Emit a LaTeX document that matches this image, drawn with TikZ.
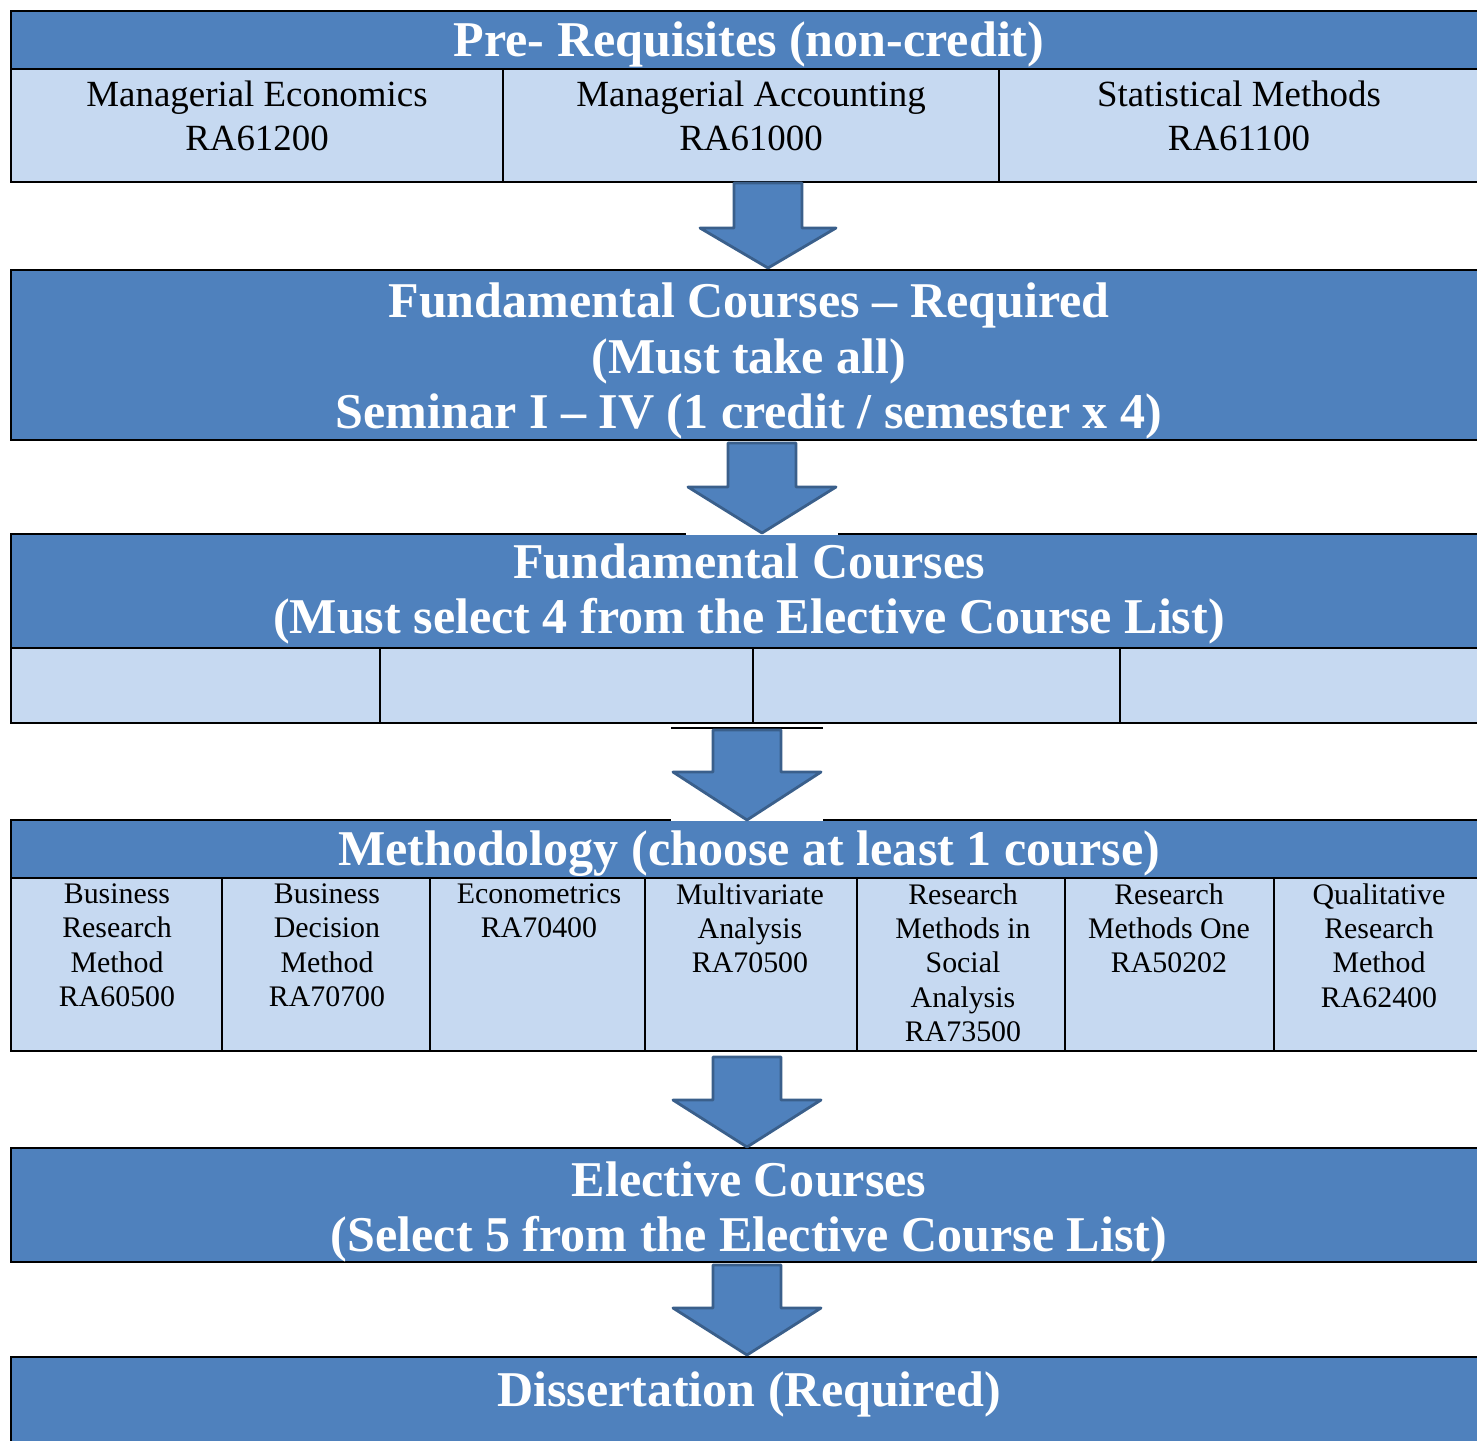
\documentclass[tikz,border=0pt]{standalone}
\usepackage{fontspec}
\setmainfont{Liberation Serif}
\definecolor{hdrblue}{HTML}{4F81BD}
\definecolor{cellblue}{HTML}{C6D9F1}
\definecolor{arrowline}{HTML}{3A5F8B}
\tikzset{
	hdr/.style={fill=hdrblue,draw=black,line width=1.1pt},
	row/.style={fill=cellblue,draw=black,line width=1.1pt},
	hdrtext/.style={text=white,align=center,inner sep=0pt,font=\bfseries\fontsize{28.5}{31.8}\selectfont},
	rowtext/.style={align=center,inner sep=0pt,font=\fontsize{21}{25}\selectfont},
	celltext/.style={align=center,inner sep=0pt,anchor=north,font=\fontsize{17}{19.6}\selectfont},
	blockarrow/.style={fill=hdrblue,draw=arrowline,line width=1.6pt,line join=round}
}
\begin{document}
\begin{tikzpicture}[x=0.02cm,y=-0.02cm]
	\useasboundingbox (0,0) rectangle (1477,1440);
	\clip (0,0) rectangle (1477,1440);
	% pre-requisites
	\draw[hdr] (11,11) rectangle (1484,69);
	\draw[row] (11,69) rectangle (1484,182);
	\draw[line width=1.1pt] (503,69) -- (503,182) (999,69) -- (999,182);
	\node[hdrtext] (prereq) at (749,44) {Pre- Requisites (non-credit)};
	\node[rowtext] (mecon) at (257,116) {Managerial Economics\\RA61200};
	\node[rowtext] (macct) at (751,116) {Managerial Accounting\\RA61000};
	\node[rowtext] (stats) at (1239,116) {Statistical Methods\\RA61100};
	% required
	\draw[hdr] (11,270) rectangle (1484,440);
	\node[hdrtext] (required) at (749,361) {Fundamental Courses -- Required\\(Must take all)\\Seminar I -- IV (1 credit / semester x 4)};
	% fundamental electives
	\draw[hdr] (11,534) rectangle (1484,648);
	\draw[row] (11,648) rectangle (1484,723);
	\draw[line width=1.1pt] (380,648) -- (380,723) (753,648) -- (753,723) (1120,648) -- (1120,723);
	\node[hdrtext] (fundsel) at (749,594) {Fundamental Courses\\(Must select 4 from the Elective Course List)};
	% methodology
	\draw[hdr] (11,820) rectangle (1484,878);
	\draw[row] (11,878) rectangle (1484,1051);
	\foreach \xc in {222,430,645,857,1065,1274}
		\draw[line width=1.1pt] (\xc,878) -- (\xc,1051);
	\node[hdrtext] (method) at (749,854) {Methodology (choose at least 1 course)};
	\node[celltext] (brm) at (117,883) {Business\\Research\\Method\\RA60500};
	\node[celltext] (bdm) at (327,883) {Business\\Decision\\Method\\RA70700};
	\node[celltext] (econ) at (539,883) {Econometrics\\RA70400};
	\node[celltext] (mva) at (750,883) {Multivariate\\Analysis\\RA70500};
	\node[celltext] (rmsa) at (963,883) {Research\\Methods in\\Social\\Analysis\\RA73500};
	\node[celltext] (rmo) at (1169,883) {Research\\Methods One\\RA50202};
	\node[celltext] (qrm) at (1379,883) {Qualitative\\Research\\Method\\RA62400};
	% electives
	\draw[hdr] (11,1148) rectangle (1484,1262);
	\node[hdrtext] (elect) at (749,1212) {Elective Courses\\(Select 5 from the Elective Course List)};
	% dissertation
	\draw[hdr] (11,1357) rectangle (1484,1470);
	\node[hdrtext] (diss) at (749,1394) {Dissertation (Required)};
	% white patches behind two arrows
	\fill[white] (686,442) rectangle (838,535);
	\fill[white] (671,728) rectangle (823,821);
	\draw[line width=0.6pt] (671,728) -- (823,728);
	% block arrows
	\foreach \cx/\hw/\yt/\ys/\yb in {768/68/183/228/268, 762/74/443/487/533, 747/74/730/772/820, 747/74/1057/1100/1147, 747/74/1265/1308/1355}
		\draw[blockarrow] ({\cx-34},\yt) -- ({\cx+34},\yt) -- ({\cx+34},\ys) -- ({\cx+\hw},\ys)
			-- (\cx,\yb) -- ({\cx-\hw},\ys) -- ({\cx-34},\ys) -- cycle;
\end{tikzpicture}
\end{document}
